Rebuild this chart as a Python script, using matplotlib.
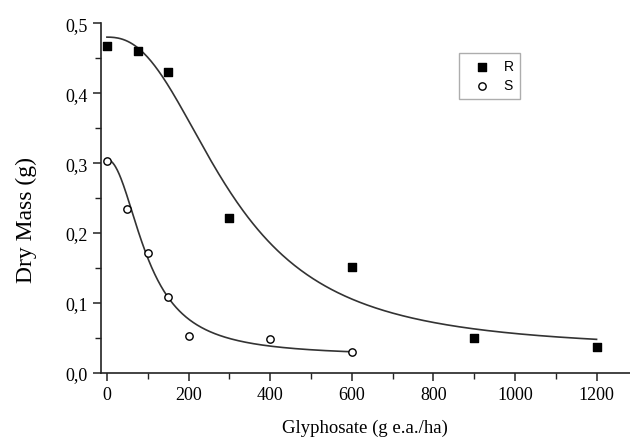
import matplotlib
matplotlib.use("Agg")
import matplotlib.pyplot as plt
import numpy as np
from matplotlib.ticker import MultipleLocator, FuncFormatter

# Observed dry mass (g) per glyphosate dose (g e.a./ha)
r_dose = [0, 75, 150, 300, 600, 900, 1200]
r_mass = [0.468, 0.460, 0.430, 0.221, 0.152, 0.050, 0.037]

s_dose = [0, 50, 100, 150, 200, 400, 600]
s_mass = [0.303, 0.235, 0.171, 0.108, 0.053, 0.048, 0.030]

# log-logistic fit parameters: [lower, upper, ed50, slope]
r_fit = [0.032, 0.480, 305.0, 2.4]
s_fit = [0.024, 0.305, 100.0, 2.1]


def loglogistic(x, p):
    c, d, e, b = p
    return c + (d - c) / (1.0 + (x / e) ** b)


fig = plt.figure(figsize=(6.3, 4.39), dpi=100)
ax = fig.add_axes([0.16, 0.148, 0.84, 0.797])

xr = np.linspace(0, max(r_dose), 400)
xs = np.linspace(0, max(s_dose), 400)
ax.plot(xr, loglogistic(xr, r_fit), color="#333333", lw=1.2, zorder=2)
ax.plot(xs, loglogistic(xs, s_fit), color="#333333", lw=1.2, zorder=2)

ax.scatter(r_dose, r_mass, marker="s", s=28, color="black", label="R", zorder=3)
ax.scatter(s_dose, s_mass, marker="o", s=28, facecolor="white",
           edgecolor="black", linewidth=1.0, label="S", zorder=3)

ax.set_xlim(-15, 1282)
ax.set_ylim(0, 0.5)
ax.spines["top"].set_visible(False)
ax.spines["right"].set_visible(False)
for sp in ("left", "bottom"):
    ax.spines[sp].set_linewidth(1.2)
    ax.spines[sp].set_color("#222222")

ax.xaxis.set_major_locator(MultipleLocator(200))
ax.xaxis.set_minor_locator(MultipleLocator(100))
ax.yaxis.set_major_locator(MultipleLocator(0.1))
ax.yaxis.set_minor_locator(MultipleLocator(0.05))
ax.yaxis.set_major_formatter(FuncFormatter(lambda v, _: f"{v:.1f}".replace(".", ",")))
ax.tick_params(which="major", direction="out", length=6, width=1.1, color="#222222")
ax.tick_params(which="minor", direction="out", length=4, width=1.0, color="#222222")

serif = "Liberation Serif"
for lab in ax.get_xticklabels() + ax.get_yticklabels():
    lab.set_fontfamily(serif)
    lab.set_fontsize(13)
ax.set_xlabel("Glyphosate (g e.a./ha)", fontfamily=serif, fontsize=13.5, labelpad=11)
ax.set_ylabel("Dry Mass (g)", fontfamily=serif, fontsize=17)
ax.yaxis.set_label_coords(-0.12, 0.44)

leg = ax.legend(loc="upper left", bbox_to_anchor=(0.677, 0.916), borderaxespad=0,
                frameon=True, fancybox=False, handlelength=2.3, handletextpad=0.4,
                borderpad=0.5, labelspacing=0.35, markerscale=1.0,
                prop={"family": "Liberation Sans", "size": 10})
leg.get_frame().set_edgecolor("#999999")
leg.get_frame().set_linewidth(1.0)

fig.savefig("out.png", dpi=100)
